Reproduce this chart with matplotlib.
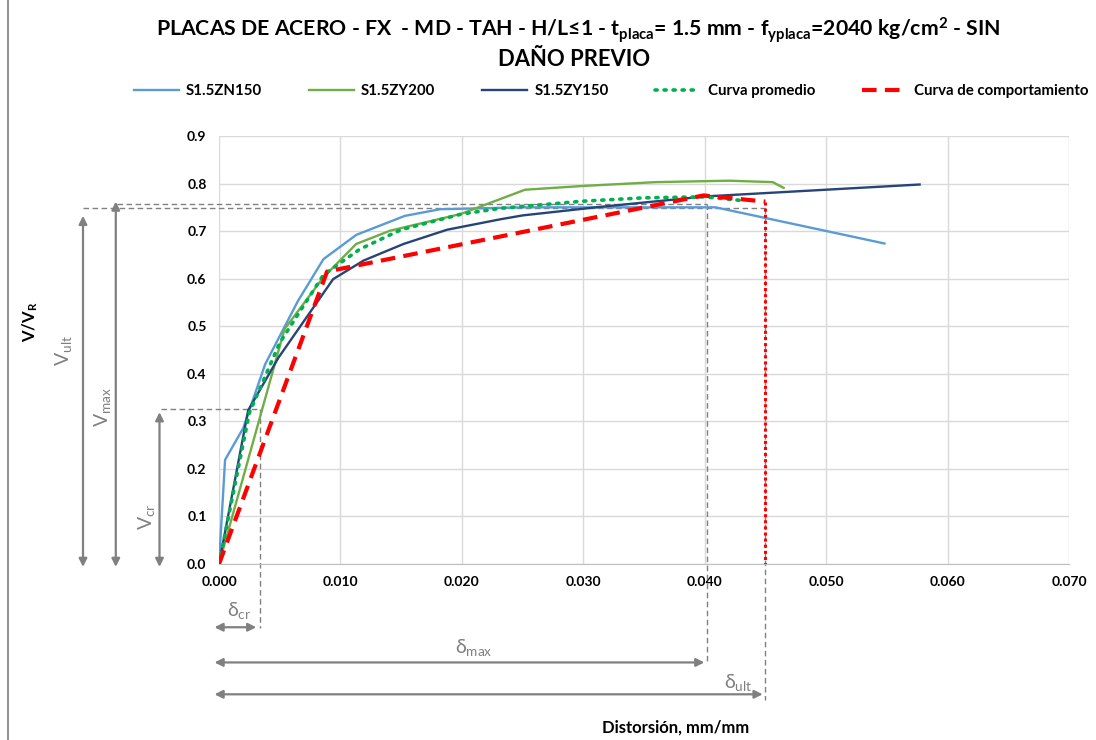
import matplotlib
matplotlib.use("Agg")
import matplotlib.pyplot as plt
from matplotlib.lines import Line2D

plt.rcParams["font.family"] = ["Lato", "DejaVu Sans"]
plt.rcParams["mathtext.fontset"] = "custom"
plt.rcParams["mathtext.rm"] = "Lato"
plt.rcParams["mathtext.bf"] = "Lato:bold"

# curves (distortion mm/mm, V/VR)
zn150_x = [0, 0.0005, 0.0020, 0.0038, 0.0065, 0.0086, 0.0113, 0.0153, 0.0182, 0.0250, 0.0300, 0.0350, 0.0409, 0.0548]
zn150_y = [0, 0.219, 0.286, 0.420, 0.553, 0.641, 0.692, 0.732, 0.746, 0.750, 0.750, 0.750, 0.750, 0.674]

zy200_x = [0, 0.0054, 0.0086, 0.0113, 0.0141, 0.0199, 0.0252, 0.0300, 0.0360, 0.0420, 0.0456, 0.0465]
zy200_y = [0, 0.494, 0.603, 0.673, 0.701, 0.736, 0.787, 0.795, 0.803, 0.806, 0.803, 0.791]

zy150_x = [0, 0.0024, 0.0049, 0.0094, 0.0119, 0.0152, 0.0188, 0.0232, 0.0250, 0.0314, 0.0401, 0.0577]
zy150_y = [0, 0.323, 0.434, 0.599, 0.638, 0.673, 0.703, 0.725, 0.733, 0.751, 0.773, 0.798]

prom_x = [0, 0.0025, 0.0050, 0.0086, 0.0116, 0.0150, 0.0200, 0.0232, 0.0300, 0.0350, 0.0400, 0.0432]
prom_y = [0, 0.318, 0.465, 0.608, 0.662, 0.703, 0.736, 0.748, 0.763, 0.770, 0.772, 0.764]

comp_x = [0, 0.0089, 0.0399, 0.0450]
comp_y = [0, 0.615, 0.775, 0.762]
drop_x = [0.0450, 0.0450]
drop_y = [0.762, 0.0]

# characteristic points
d_cr, v_cr = 0.0034, 0.325
d_max, v_max = 0.0402, 0.758
d_ult, v_ult = 0.0450, 0.748

C_ZN = "#5B9BD5"
C_Z2 = "#70AD47"
C_Z1 = "#264478"
C_PR = "#00B050"
C_RED = "#FF0000"
GREY = "#808080"

fig = plt.figure(figsize=(10.96, 7.40), dpi=100)
ax = fig.add_axes([219 / 1096, 1 - 564 / 740, 850 / 1096, 428 / 740])

ax.plot(zn150_x, zn150_y, color=C_ZN, lw=1.7, label="S1.5ZN150", zorder=3)
ax.plot(zy200_x, zy200_y, color=C_Z2, lw=1.7, label="S1.5ZY200", zorder=3)
ax.plot(zy150_x, zy150_y, color=C_Z1, lw=1.7, label="S1.5ZY150", zorder=3)
ax.plot(prom_x, prom_y, color=C_PR, lw=2.6, linestyle=(0, (0.6, 1.9)),
        dash_capstyle="round", label="Curva promedio", zorder=4)
ax.plot(comp_x, comp_y, color=C_RED, lw=3.0, linestyle=(0, (3.5, 2)),
        label="Curva de comportamiento", zorder=5)
ax.plot(drop_x, drop_y, color=C_RED, lw=2.2, linestyle=(0, (1, 1)), zorder=5)

ax.set_xlim(0, 0.070)
ax.set_ylim(0, 0.9)
ax.set_xticks([i * 0.01 for i in range(8)])
ax.set_yticks([i * 0.1 for i in range(10)])
ax.xaxis.set_major_formatter(matplotlib.ticker.FormatStrFormatter("%.3f"))
ax.yaxis.set_major_formatter(matplotlib.ticker.FormatStrFormatter("%.1f"))
ax.tick_params(length=0, labelsize=10, pad=9)
for lab in ax.get_xticklabels() + ax.get_yticklabels():
    lab.set_fontweight("bold")
ax.grid(True, color="#D9D9D9", lw=1)
ax.set_axisbelow(True)
for s in ["top", "right", "left"]:
    ax.spines[s].set_visible(False)
ax.spines["bottom"].set_color("#BFBFBF")

# dashed guide lines
gkw = dict(color=GREY, lw=1, linestyle=(0, (4, 2.5)), clip_on=False, zorder=2)
ax.plot([-0.0048, d_cr], [v_cr, v_cr], **gkw)
ax.plot([d_cr, d_cr], [v_cr, -0.135], **gkw)
ax.plot([-0.0084, d_max], [v_max, v_max], **gkw)
ax.plot([d_max, d_max], [v_max, -0.207], **gkw)
ax.plot([-0.0112, d_ult], [v_ult, v_ult], **gkw)
ax.plot([d_ult, d_ult], [v_ult, -0.285], **gkw)

akw = dict(arrowstyle="<|-|>", color=GREY, lw=1.6, mutation_scale=12)


def arrow(x0, y0, x1, y1):
    ax.annotate("", xy=(x1, y1), xytext=(x0, y0), xycoords="data",
                arrowprops=akw, annotation_clip=False)


# vertical arrows
arrow(-0.0049, -0.012, -0.0049, v_cr)
arrow(-0.0085, -0.012, -0.0085, v_max + 0.01)
arrow(-0.0112, -0.012, -0.0112, v_ult - 0.01)
# horizontal arrows
arrow(-0.0006, -0.133, d_cr - 0.0001, -0.133)
arrow(-0.0006, -0.207, d_max, -0.207)
arrow(-0.0006, -0.274, d_ult, -0.274)

tkw = dict(color=GREY, fontsize=14, ha="center", va="center")
ax.text(-0.0127, 0.45, r"V$_{\mathregular{ult}}$", rotation=90, **tkw)
ax.text(-0.0095, 0.33, r"V$_{\mathregular{max}}$", rotation=90, **tkw)
ax.text(-0.0059, 0.10, r"V$_{\mathregular{cr}}$", rotation=90, **tkw)
ax.text(0.0017, -0.100, r"δ$_{\mathregular{cr}}$", **tkw)
ax.text(0.0210, -0.177, r"δ$_{\mathregular{max}}$", **tkw)
ax.text(0.0428, -0.250, r"δ$_{\mathregular{ult}}$", **tkw)

fig.text(578 / 1096, 1 - 30 / 740,
         r"PLACAS DE ACERO - FX  - MD - TAH - H/L≤1 - t$\mathbf{_{placa}}$= 1.5 mm - "
         r"f$\mathbf{_{yplaca}}$=2040 kg/cm$\mathbf{^{2}}$ - SIN",
         ha="center", va="center", fontsize=15.3, fontweight="bold")
fig.text(574 / 1096, 1 - 59 / 740, "DAÑO PREVIO",
         ha="center", va="center", fontsize=15.8, fontweight="bold")

fig.text(30 / 1096, 1 - 322 / 740, r"V/V$\mathbf{_{R}}$", rotation=90,
         ha="center", va="center", fontsize=12, fontweight="bold")
fig.text(676 / 1096, 1 - 728 / 740, "Distorsión, mm/mm",
         ha="center", va="center", fontsize=12, fontweight="bold")

leg = fig.legend(loc="center", bbox_to_anchor=(611 / 1096, 1 - 91 / 740), ncol=5,
                 frameon=False, handlelength=3.0,
                 columnspacing=3.1, handletextpad=0.5,
                 prop=dict(weight="bold", size=10.8))

fig.add_artist(Line2D([8 / 1096, 8 / 1096], [0, 1], color="#7F7F7F", lw=1.2))

fig.savefig("out.png", dpi=100)
